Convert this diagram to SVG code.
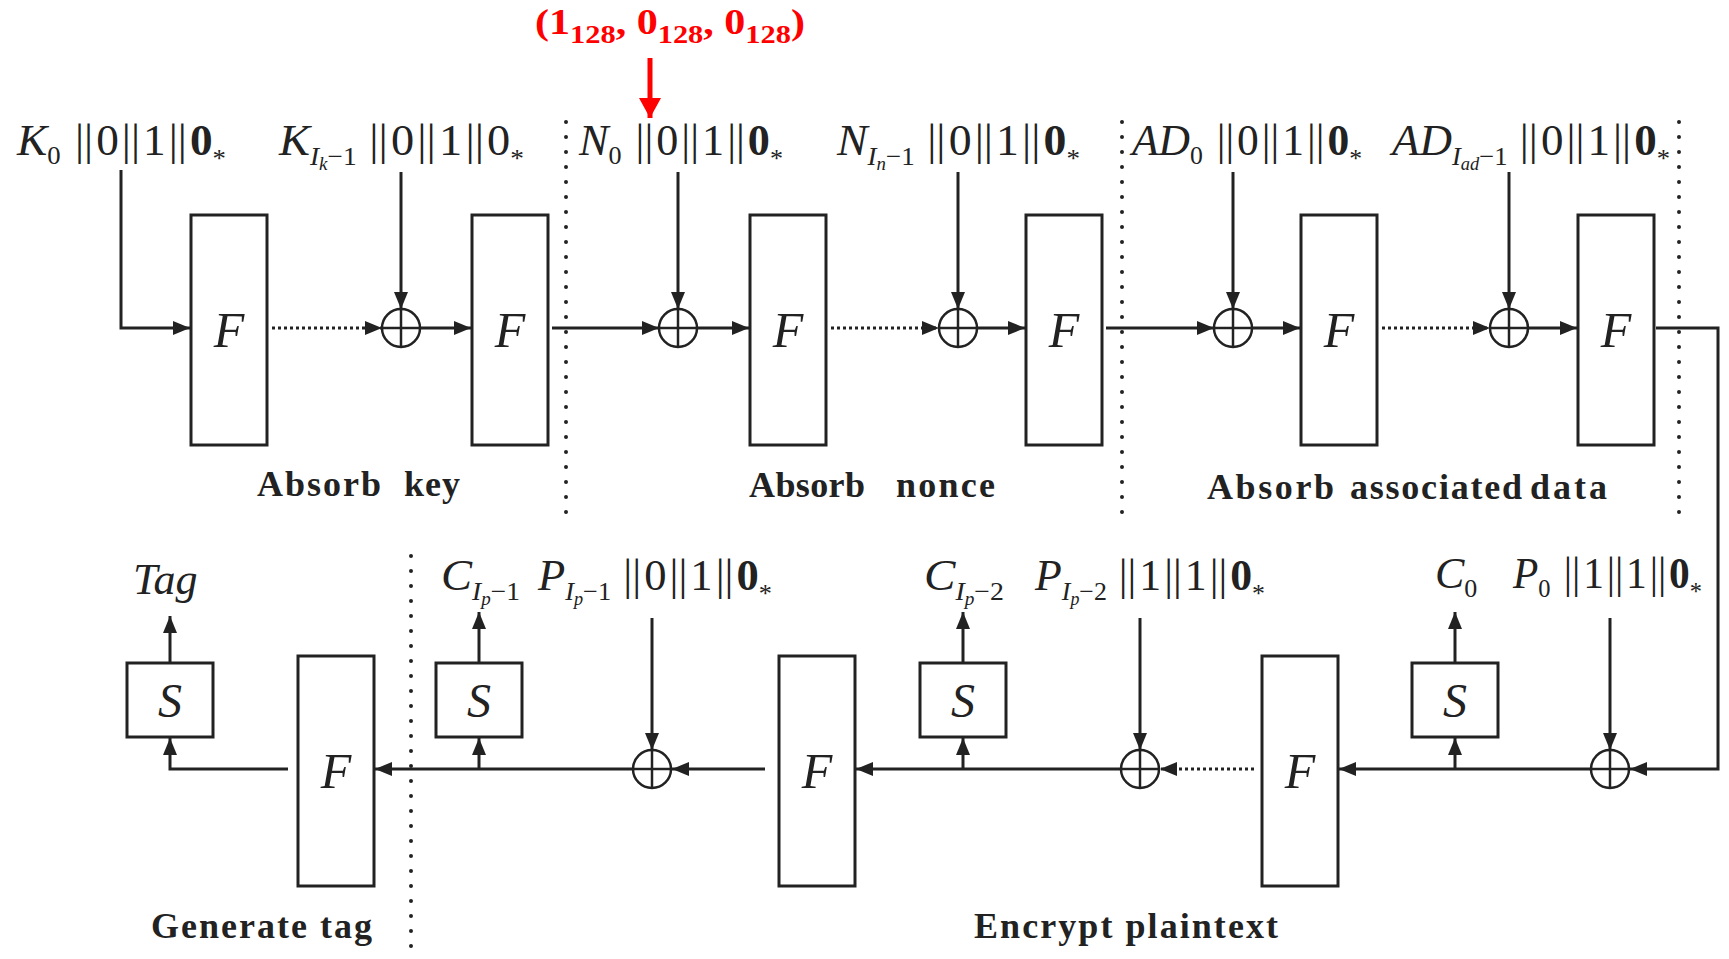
<svg xmlns="http://www.w3.org/2000/svg" width="1729" height="959" viewBox="0 0 1729 959">
<style>
.bg{fill:#fff}
.box{fill:#fff;stroke:#222;stroke-width:3}
.ln{fill:none;stroke:#222;stroke-width:3}
.dot{fill:none;stroke:#222;stroke-width:3;stroke-dasharray:3 3}
.vdot{fill:none;stroke:#222;stroke-width:4;stroke-linecap:round;stroke-dasharray:0 15}
.xc{fill:#fff;stroke:#222;stroke-width:2.5}
.xl{stroke:#222;stroke-width:2.5}
.t{font-family:"Liberation Serif","Times New Roman",serif;fill:#222}
.m{font-size:44px}
.i{font-style:italic}
.b{font-weight:bold}
.s{font-size:26px}
.ss{font-size:18px}
.st{font-size:26px}
.fx{font-family:"Liberation Serif","Times New Roman",serif;font-style:italic;font-size:50px;fill:#222;text-anchor:middle}
.sx{font-family:"Liberation Serif","Times New Roman",serif;font-style:italic;font-size:48px;fill:#222;text-anchor:middle}
.sec{font-family:"Liberation Serif","Times New Roman",serif;font-weight:bold;font-size:36px;fill:#222}
.red{font-family:"Liberation Serif","Times New Roman",serif;font-weight:bold;font-size:36px;fill:#f00}
</style>
<defs>
<marker id="ah" markerUnits="userSpaceOnUse" markerWidth="18" markerHeight="14" refX="17" refY="7" orient="auto"><path d="M0,0 L17,7 L0,14 z" fill="#222"/></marker>
<marker id="ahr" markerUnits="userSpaceOnUse" markerWidth="22" markerHeight="22" refX="20" refY="11" orient="auto"><path d="M0,0 L20,11 L0,22 z" fill="#f00"/></marker>
<g id="xorsym"><circle class="xc" cx="0" cy="0" r="19"/><line class="xl" x1="-19" y1="0" x2="19" y2="0"/><line class="xl" x1="0" y1="-19" x2="0" y2="19"/></g>
</defs>
<rect class="bg" x="0" y="0" width="1729" height="959"/>

<g id="separators">
<line class="vdot" x1="566" y1="122" x2="566" y2="522"/>
<line class="vdot" x1="1122" y1="122" x2="1122" y2="522"/>
<line class="vdot" x1="1679" y1="122" x2="1679" y2="522"/>
<line class="vdot" x1="411" y1="556" x2="411" y2="959"/>
</g>

<g id="connectors">
<path class="ln" d="M121,170 V328 H190" marker-end="url(#ah)"/>
<line class="dot" x1="272" y1="328" x2="382" y2="328" marker-end="url(#ah)"/>
<line class="ln" x1="420" y1="328" x2="471" y2="328" marker-end="url(#ah)"/>
<line class="ln" x1="552" y1="328" x2="659" y2="328" marker-end="url(#ah)"/>
<line class="ln" x1="697" y1="328" x2="749" y2="328" marker-end="url(#ah)"/>
<line class="dot" x1="831" y1="328" x2="939" y2="328" marker-end="url(#ah)"/>
<line class="ln" x1="977" y1="328" x2="1025" y2="328" marker-end="url(#ah)"/>
<line class="ln" x1="1106" y1="328" x2="1214" y2="328" marker-end="url(#ah)"/>
<line class="ln" x1="1252" y1="328" x2="1300" y2="328" marker-end="url(#ah)"/>
<line class="dot" x1="1382" y1="328" x2="1490" y2="328" marker-end="url(#ah)"/>
<line class="ln" x1="1528" y1="328" x2="1577" y2="328" marker-end="url(#ah)"/>
<path class="ln" d="M1656,328 H1718 V769 H1630" marker-end="url(#ah)"/>
<line class="ln" x1="401" y1="172" x2="401" y2="309" marker-end="url(#ah)"/>
<line class="ln" x1="678" y1="172" x2="678" y2="309" marker-end="url(#ah)"/>
<line class="ln" x1="958" y1="172" x2="958" y2="309" marker-end="url(#ah)"/>
<line class="ln" x1="1233" y1="172" x2="1233" y2="309" marker-end="url(#ah)"/>
<line class="ln" x1="1509" y1="172" x2="1509" y2="309" marker-end="url(#ah)"/>
<line class="ln" x1="1591" y1="769" x2="1339" y2="769" marker-end="url(#ah)"/>
<line class="ln" x1="1455" y1="769" x2="1455" y2="738" marker-end="url(#ah)"/>
<line class="ln" x1="1455" y1="663" x2="1455" y2="612" marker-end="url(#ah)"/>
<line class="ln" x1="1610" y1="618" x2="1610" y2="750" marker-end="url(#ah)"/>
<line class="dot" x1="1254" y1="769" x2="1160" y2="769" marker-end="url(#ah)"/>
<line class="ln" x1="1140" y1="618" x2="1140" y2="750" marker-end="url(#ah)"/>
<line class="ln" x1="1121" y1="769" x2="856" y2="769" marker-end="url(#ah)"/>
<line class="ln" x1="963" y1="769" x2="963" y2="738" marker-end="url(#ah)"/>
<line class="ln" x1="963" y1="663" x2="963" y2="612" marker-end="url(#ah)"/>
<line class="ln" x1="765" y1="769" x2="672" y2="769" marker-end="url(#ah)"/>
<line class="ln" x1="652" y1="618" x2="652" y2="750" marker-end="url(#ah)"/>
<line class="ln" x1="633" y1="769" x2="375" y2="769" marker-end="url(#ah)"/>
<line class="ln" x1="479" y1="769" x2="479" y2="738" marker-end="url(#ah)"/>
<line class="ln" x1="479" y1="663" x2="479" y2="612" marker-end="url(#ah)"/>
<path class="ln" d="M288,769 H170 V738" marker-end="url(#ah)"/>
<line class="ln" x1="170" y1="663" x2="170" y2="616" marker-end="url(#ah)"/>
<line x1="650" y1="58" x2="650" y2="118" stroke="#f00" stroke-width="5" marker-end="url(#ahr)"/>
</g>

<g id="F1"><rect class="box" x="191" y="215" width="76" height="230"/><text class="fx" x="229" y="347">F</text></g>
<g id="F2"><rect class="box" x="472" y="215" width="76" height="230"/><text class="fx" x="510" y="347">F</text></g>
<g id="F3"><rect class="box" x="750" y="215" width="76" height="230"/><text class="fx" x="788" y="347">F</text></g>
<g id="F4"><rect class="box" x="1026" y="215" width="76" height="230"/><text class="fx" x="1064" y="347">F</text></g>
<g id="F5"><rect class="box" x="1301" y="215" width="76" height="230"/><text class="fx" x="1339" y="347">F</text></g>
<g id="F6"><rect class="box" x="1578" y="215" width="76" height="230"/><text class="fx" x="1616" y="347">F</text></g>

<g id="X1"><use href="#xorsym" x="401" y="328"/></g>
<g id="X2"><use href="#xorsym" x="678" y="328"/></g>
<g id="X3"><use href="#xorsym" x="958" y="328"/></g>
<g id="X4"><use href="#xorsym" x="1233" y="328"/></g>
<g id="X5"><use href="#xorsym" x="1509" y="328"/></g>

<g id="Fb1"><rect class="box" x="298" y="656" width="76" height="230"/><text class="fx" x="336" y="788">F</text></g>
<g id="Fb2"><rect class="box" x="779" y="656" width="76" height="230"/><text class="fx" x="817" y="788">F</text></g>
<g id="Fb3"><rect class="box" x="1262" y="656" width="76" height="230"/><text class="fx" x="1300" y="788">F</text></g>

<g id="Xb1"><use href="#xorsym" x="652" y="769"/></g>
<g id="Xb2"><use href="#xorsym" x="1140" y="769"/></g>
<g id="Xb3"><use href="#xorsym" x="1610" y="769"/></g>

<g id="S1"><rect class="box" x="127" y="663" width="86" height="74"/><text class="sx" x="170" y="717">S</text></g>
<g id="S2"><rect class="box" x="436" y="663" width="86" height="74"/><text class="sx" x="479" y="717">S</text></g>
<g id="S3"><rect class="box" x="920" y="663" width="86" height="74"/><text class="sx" x="963" y="717">S</text></g>
<g id="S4"><rect class="box" x="1412" y="663" width="86" height="74"/><text class="sx" x="1455" y="717">S</text></g>

<g id="top-labels">
<text class="t m" x="17" y="155" textLength="209" lengthAdjust="spacingAndGlyphs"><tspan class="i">K</tspan><tspan class="s" dy="9">0</tspan><tspan dy="-9" dx="14">||</tspan><tspan dx="3">0</tspan><tspan dx="3">||</tspan><tspan dx="3">1</tspan><tspan dx="3">||</tspan><tspan class="b" dx="3">0</tspan><tspan class="st" dy="12">*</tspan></text>
<text class="t m" x="279" y="155" textLength="245" lengthAdjust="spacingAndGlyphs"><tspan class="i">K</tspan><tspan class="s i" dy="10">I</tspan><tspan class="ss i" dy="5">k</tspan><tspan class="s" dy="-5">−1</tspan><tspan dy="-10" dx="12">||</tspan><tspan dx="3">0</tspan><tspan dx="3">||</tspan><tspan dx="3">1</tspan><tspan dx="3">||</tspan><tspan dx="3">0</tspan><tspan class="st" dy="12">*</tspan></text>
<text class="t m" x="579" y="155" textLength="204" lengthAdjust="spacingAndGlyphs"><tspan class="i">N</tspan><tspan class="s" dy="9">0</tspan><tspan dy="-9" dx="14">||</tspan><tspan dx="3">0</tspan><tspan dx="3">||</tspan><tspan dx="3">1</tspan><tspan dx="3">||</tspan><tspan class="b" dx="3">0</tspan><tspan class="st" dy="12">*</tspan></text>
<text class="t m" x="837" y="155" textLength="243" lengthAdjust="spacingAndGlyphs"><tspan class="i">N</tspan><tspan class="s i" dy="10">I</tspan><tspan class="ss i" dy="5">n</tspan><tspan class="s" dy="-5">−1</tspan><tspan dy="-10" dx="12">||</tspan><tspan dx="3">0</tspan><tspan dx="3">||</tspan><tspan dx="3">1</tspan><tspan dx="3">||</tspan><tspan class="b" dx="3">0</tspan><tspan class="st" dy="12">*</tspan></text>
<text class="t m" x="1132" y="155" textLength="230" lengthAdjust="spacingAndGlyphs"><tspan class="i">AD</tspan><tspan class="s" dy="9">0</tspan><tspan dy="-9" dx="14">||</tspan><tspan dx="3">0</tspan><tspan dx="3">||</tspan><tspan dx="3">1</tspan><tspan dx="3">||</tspan><tspan class="b" dx="3">0</tspan><tspan class="st" dy="12">*</tspan></text>
<text class="t m" x="1392" y="155" textLength="278" lengthAdjust="spacingAndGlyphs"><tspan class="i">AD</tspan><tspan class="s i" dy="10">I</tspan><tspan class="ss i" dy="5">ad</tspan><tspan class="s" dy="-5">−1</tspan><tspan dy="-10" dx="12">||</tspan><tspan dx="3">0</tspan><tspan dx="3">||</tspan><tspan dx="3">1</tspan><tspan dx="3">||</tspan><tspan class="b" dx="3">0</tspan><tspan class="st" dy="12">*</tspan></text>
</g>

<g id="bottom-labels">
<text class="t m i" x="133" y="594" font-size="42">Tag</text>
<text class="t m" x="441" y="590" textLength="79" lengthAdjust="spacingAndGlyphs"><tspan class="i">C</tspan><tspan class="s i" dy="10">I</tspan><tspan class="ss i" dy="5">p</tspan><tspan class="s" dy="-5">−1</tspan></text>
<text class="t m" x="538" y="590" textLength="234" lengthAdjust="spacingAndGlyphs"><tspan class="i">P</tspan><tspan class="s i" dy="10">I</tspan><tspan class="ss i" dy="5">p</tspan><tspan class="s" dy="-5">−1</tspan><tspan dy="-10" dx="12">||</tspan><tspan dx="3">0</tspan><tspan dx="3">||</tspan><tspan dx="3">1</tspan><tspan dx="3">||</tspan><tspan class="b" dx="3">0</tspan><tspan class="st" dy="12">*</tspan></text>
<text class="t m" x="924" y="590" textLength="80" lengthAdjust="spacingAndGlyphs"><tspan class="i">C</tspan><tspan class="s i" dy="10">I</tspan><tspan class="ss i" dy="5">p</tspan><tspan class="s" dy="-5">−2</tspan></text>
<text class="t m" x="1035" y="590" textLength="230" lengthAdjust="spacingAndGlyphs"><tspan class="i">P</tspan><tspan class="s i" dy="10">I</tspan><tspan class="ss i" dy="5">p</tspan><tspan class="s" dy="-5">−2</tspan><tspan dy="-10" dx="12">||</tspan><tspan dx="3">1</tspan><tspan dx="3">||</tspan><tspan dx="3">1</tspan><tspan dx="3">||</tspan><tspan class="b" dx="3">0</tspan><tspan class="st" dy="12">*</tspan></text>
<text class="t m" x="1435" y="588"><tspan class="i">C</tspan><tspan class="s" dy="9">0</tspan></text>
<text class="t m" x="1513" y="588" textLength="189" lengthAdjust="spacingAndGlyphs"><tspan class="i">P</tspan><tspan class="s" dy="9">0</tspan><tspan dy="-9" dx="14">||</tspan><tspan dx="3">1</tspan><tspan dx="3">||</tspan><tspan dx="3">1</tspan><tspan dx="3">||</tspan><tspan class="b" dx="3">0</tspan><tspan class="st" dy="12">*</tspan></text>
</g>

<g id="section-labels">
<text class="sec" x="257" y="496" textLength="124" lengthAdjust="spacing">Absorb</text>
<text class="sec" x="404" y="496" textLength="56" lengthAdjust="spacing">key</text>
<text class="sec" x="749" y="497" textLength="116" lengthAdjust="spacing">Absorb</text>
<text class="sec" x="896" y="497" textLength="99" lengthAdjust="spacing">nonce</text>
<text class="sec" x="1207" y="499" textLength="127" lengthAdjust="spacing">Absorb</text>
<text class="sec" x="1350" y="499" textLength="172" lengthAdjust="spacing">associated</text>
<text class="sec" x="1530" y="499" textLength="77" lengthAdjust="spacing">data</text>
<text class="sec" x="151" y="938" textLength="221" lengthAdjust="spacing">Generate tag</text>
<text class="sec" x="974" y="938" textLength="304" lengthAdjust="spacing">Encrypt plaintext</text>
</g>

<g id="red-label">
<text class="red" x="535" y="34" textLength="270" lengthAdjust="spacingAndGlyphs">(<tspan>1</tspan><tspan font-size="26" dy="9">128</tspan><tspan dy="-9">, 0</tspan><tspan font-size="26" dy="9">128</tspan><tspan dy="-9">, 0</tspan><tspan font-size="26" dy="9">128</tspan><tspan dy="-9">)</tspan></text>
</g>
</svg>
